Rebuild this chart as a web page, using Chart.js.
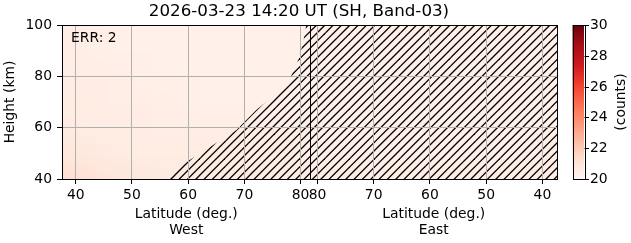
<!DOCTYPE html>
<html>
<head>
<meta charset="utf-8">
<script src="https://cdn.jsdelivr.net/npm/chart.js@4.4.1/dist/chart.umd.min.js"></script>
<style>
  html, body { margin: 0; padding: 0; background: #fff; }
  #wrap { width: 631px; height: 243px; }
</style>
</head>
<body>
<div id="wrap"><canvas id="chart" width="631" height="243"></canvas></div>
<script>
const titleText = '2026-03-23 14:20 UT (SH, Band-03)'
const errText = 'ERR: 2'

// heatmap cells (counts), rows follow heights, columns follow latitudes
const heights = [40, 50, 60, 70, 80, 90, 100]
const westLat = [38, 46, 54, 62, 70, 78]
const westCounts = [
  [21.3, 20.9, 20.7, 20.6, 20.6, 20.5],
  [20.8, 20.6, 20.5, 20.5, 20.5, 20.4],
  [20.6, 20.5, 20.4, 20.4, 20.4, 20.4],
  [20.5, 20.4, 20.4, 20.3, 20.3, 20.3],
  [20.4, 20.4, 20.3, 20.3, 20.3, 20.3],
  [20.4, 20.3, 20.3, 20.3, 20.3, 20.3],
  [20.4, 20.3, 20.3, 20.3, 20.3, 20.3]
]
const eastLat = [78, 70, 62, 54, 46, 38]
const eastCounts = [
  [20.4, 20.4, 20.4, 20.4, 20.4, 20.5],
  [20.3, 20.3, 20.3, 20.3, 20.3, 20.4],
  [20.3, 20.3, 20.3, 20.3, 20.3, 20.3],
  [20.3, 20.3, 20.3, 20.3, 20.3, 20.3],
  [20.3, 20.3, 20.3, 20.3, 20.3, 20.3],
  [20.3, 20.3, 20.3, 20.3, 20.3, 20.3],
  [20.3, 20.3, 20.3, 20.3, 20.3, 20.3]
]

// edge of the hatched (no data) area on the west side, the east side is all hatched
const hatchLat = [55.8, 57.5, 68.6, 72.1, 75.0, 78.0, 79.8, 80.5, 81.0]
const hatchHeight = [40, 43.5, 59.1, 66.9, 72.0, 78.6, 87.5, 94.0, 100]

const westTicks = [40, 50, 60, 70, 80]
const eastTicks = [80, 70, 60, 50, 40]
const heightTicks = [40, 60, 80, 100]
const colorTicks = [20, 22, 24, 26, 28, 30]
const countRange = [20, 30]

const westEdge = 37.56
const eastEdge = 37.4
const split = 81.6   // where west and east panels meet
const fold = 163     // east latitude L sits at x = fold - L

const reds = ['#fff5f0', '#fee0d2', '#fcbba1', '#fc9272', '#fb6a4a', '#ef3b2c', '#cb181d', '#a50f15', '#67000d']

const hex = h => [1, 3, 5].map(i => parseInt(h.substr(i, 2), 16))

const redsColor = v => {
  let t = (v - countRange[0]) / (countRange[1] - countRange[0])
  t = Math.min(1, Math.max(0, t)) * (reds.length - 1)
  const i = Math.min(reds.length - 2, Math.floor(t))
  const a = hex(reds[i])
  const b = hex(reds[i + 1])
  const f = t - i
  return a.map((c, k) => Math.round(c + (b[k] - c) * f))
}

const makeHatch = () => {
  const size = 25
  const c = document.createElement('canvas')
  c.width = size
  c.height = size
  const g = c.getContext('2d')
  g.strokeStyle = '#000'
  g.lineWidth = 1.3
  for (let k = 0; k <= 6; k++) {
    const s = k * size / 3
    g.beginPath()
    g.moveTo(s + 2, -2)
    g.moveTo(-2, s + 2)
    g.lineTo(s + 2, -2)
    g.stroke()
  }
  return g.createPattern(c, 'repeat')
}

const hatchData = hatchLat
  .map((l, i) => ({ x: l, y: hatchHeight[i] }))
  .concat([{ x: fold - eastEdge, y: 100 }])

const drawPanel = (ctx, chart, counts, x0, x1) => {
  const rows = counts.length
  const cols = counts[0].length
  const off = document.createElement('canvas')
  off.width = cols
  off.height = rows
  const g = off.getContext('2d')
  const img = g.createImageData(cols, rows)
  counts.forEach((row, r) => {
    row.forEach((v, c) => {
      const [R, G, B] = redsColor(v)
      const p = ((rows - 1 - r) * cols + c) * 4
      img.data[p] = R
      img.data[p + 1] = G
      img.data[p + 2] = B
      img.data[p + 3] = 255
    })
  })
  g.putImageData(img, 0, 0)
  const { x, y } = chart.scales
  const top = y.getPixelForValue(heights[heights.length - 1])
  const bottom = y.getPixelForValue(heights[0])
  const left = x.getPixelForValue(x0)
  const right = x.getPixelForValue(x1)
  const dh = (bottom - top) / (rows - 1)
  const dw = (right - left) / (cols - 1)
  ctx.imageSmoothingEnabled = true
  ctx.drawImage(off, left - dw / 2, top - dh / 2, right - left + dw, bottom - top + dh)
}

const heatmap = {
  id: 'heatmap',
  beforeDatasetsDraw(chart) {
    const ctx = chart.ctx
    const a = chart.chartArea
    ctx.save()
    ctx.beginPath()
    ctx.rect(a.left, a.top, chart.scales.x.getPixelForValue(split) - a.left, a.bottom - a.top)
    ctx.clip()
    drawPanel(ctx, chart, westCounts, westLat[0], westLat[westLat.length - 1])
    ctx.restore()
    ctx.save()
    ctx.beginPath()
    const sx = chart.scales.x.getPixelForValue(split)
    ctx.rect(sx, a.top, a.right - sx, a.bottom - a.top)
    ctx.clip()
    drawPanel(ctx, chart, eastCounts, fold - eastLat[0], fold - eastLat[eastLat.length - 1])
    ctx.restore()
  }
}

const decor = {
  id: 'decor',
  afterDraw(chart) {
    const ctx = chart.ctx
    const a = chart.chartArea
    const { x, y } = chart.scales
    ctx.save()
    ctx.strokeStyle = '#000'
    ctx.lineWidth = 1
    ctx.strokeRect(Math.round(a.left) + 0.5, Math.round(a.top) + 0.5, Math.round(a.right - a.left), Math.round(a.bottom - a.top))
    const sx = Math.round(x.getPixelForValue(split)) + 0.5
    ctx.beginPath()
    ctx.moveTo(sx, a.top)
    ctx.lineTo(sx, a.bottom)
    ctx.stroke()

    ctx.fillStyle = '#000'
    ctx.font = '16.7px "DejaVu Sans"'
    ctx.textAlign = 'center'
    ctx.textBaseline = 'middle'
    ctx.fillText(titleText, 299, 12)

    ctx.font = '13.9px "DejaVu Sans"'
    ctx.textAlign = 'left'
    ctx.fillText(errText, a.left + 9, 38)

    ctx.textAlign = 'center'
    const wc = (a.left + sx) / 2
    const ec = (sx + a.right) / 2
    ctx.fillText('Latitude (deg.)', wc, 214)
    ctx.fillText('West', wc, 230)
    ctx.fillText('Latitude (deg.)', ec, 214)
    ctx.fillText('East', ec, 230)

    // colorbar
    const cl = 572.5, cr = 584
    const ct = a.top, cb = a.bottom
    const grad = ctx.createLinearGradient(0, cb, 0, ct)
    reds.forEach((c, i) => grad.addColorStop(i / (reds.length - 1), c))
    ctx.fillStyle = grad
    ctx.fillRect(cl, ct, cr - cl, cb - ct)
    ctx.strokeRect(Math.round(cl) + 0.5, Math.round(ct) + 0.5, Math.round(cr - cl), Math.round(cb - ct))
    ctx.fillStyle = '#000'
    ctx.textAlign = 'left'
    colorTicks.forEach(v => {
      const py = Math.round(cb - (v - countRange[0]) / (countRange[1] - countRange[0]) * (cb - ct)) + 0.5
      ctx.beginPath()
      ctx.moveTo(cr + 0.5, py)
      ctx.lineTo(cr + 5, py)
      ctx.stroke()
      ctx.fillText(String(v), cr + 6, py)
    })
    ctx.translate(621, (ct + cb) / 2)
    ctx.rotate(-Math.PI / 2)
    ctx.textAlign = 'center'
    ctx.fillText('(counts)', 0, 0)
    ctx.restore()
  }
}

Chart.defaults.font.family = '"DejaVu Sans"'
Chart.defaults.font.size = 13.9
Chart.defaults.color = '#000'

const chart = new Chart(document.getElementById('chart'), {
  type: 'line',
  data: {
    datasets: [
      {
        label: 'no data',
        data: hatchData,
        fill: 'start',
        backgroundColor: makeHatch(),
        borderColor: 'transparent',
        borderWidth: 0,
        pointRadius: 0,
        tension: 0
      }
    ]
  },
  options: {
    responsive: false,
    animation: false,
    devicePixelRatio: 1,
    layout: { padding: { top: 25, right: 74, left: 0, bottom: 0 } },
    plugins: { legend: { display: false }, tooltip: { enabled: false } },
    scales: {
      x: {
        type: 'linear',
        min: westEdge,
        max: fold - eastEdge,
        afterBuildTicks: scale => {
          scale.ticks = westTicks.map(v => ({ value: v }))
            .concat(eastTicks.map(v => ({ value: fold - v })))
        },
        afterFit: scale => { scale.height = 64 },
        ticks: {
          autoSkip: false,
          maxRotation: 0,
          padding: 3,
          callback: v => (v < split ? v : fold - v)
        },
        grid: { color: '#b0b0b0', lineWidth: 1, tickColor: '#000', tickLength: 5, z: 1 },
        border: { display: false }
      },
      y: {
        min: 40,
        max: 100,
        afterBuildTicks: scale => {
          scale.ticks = heightTicks.map(v => ({ value: v }))
        },
        afterFit: scale => { scale.width = 62 },
        ticks: { padding: 5 },
        grid: { color: '#b0b0b0', lineWidth: 1, tickColor: '#000', tickLength: 5, z: 1 },
        border: { display: false },
        title: { display: true, text: 'Height (km)', padding: { top: 2 } }
      }
    }
  },
  plugins: [heatmap, decor]
})
</script>
</body>
</html>
